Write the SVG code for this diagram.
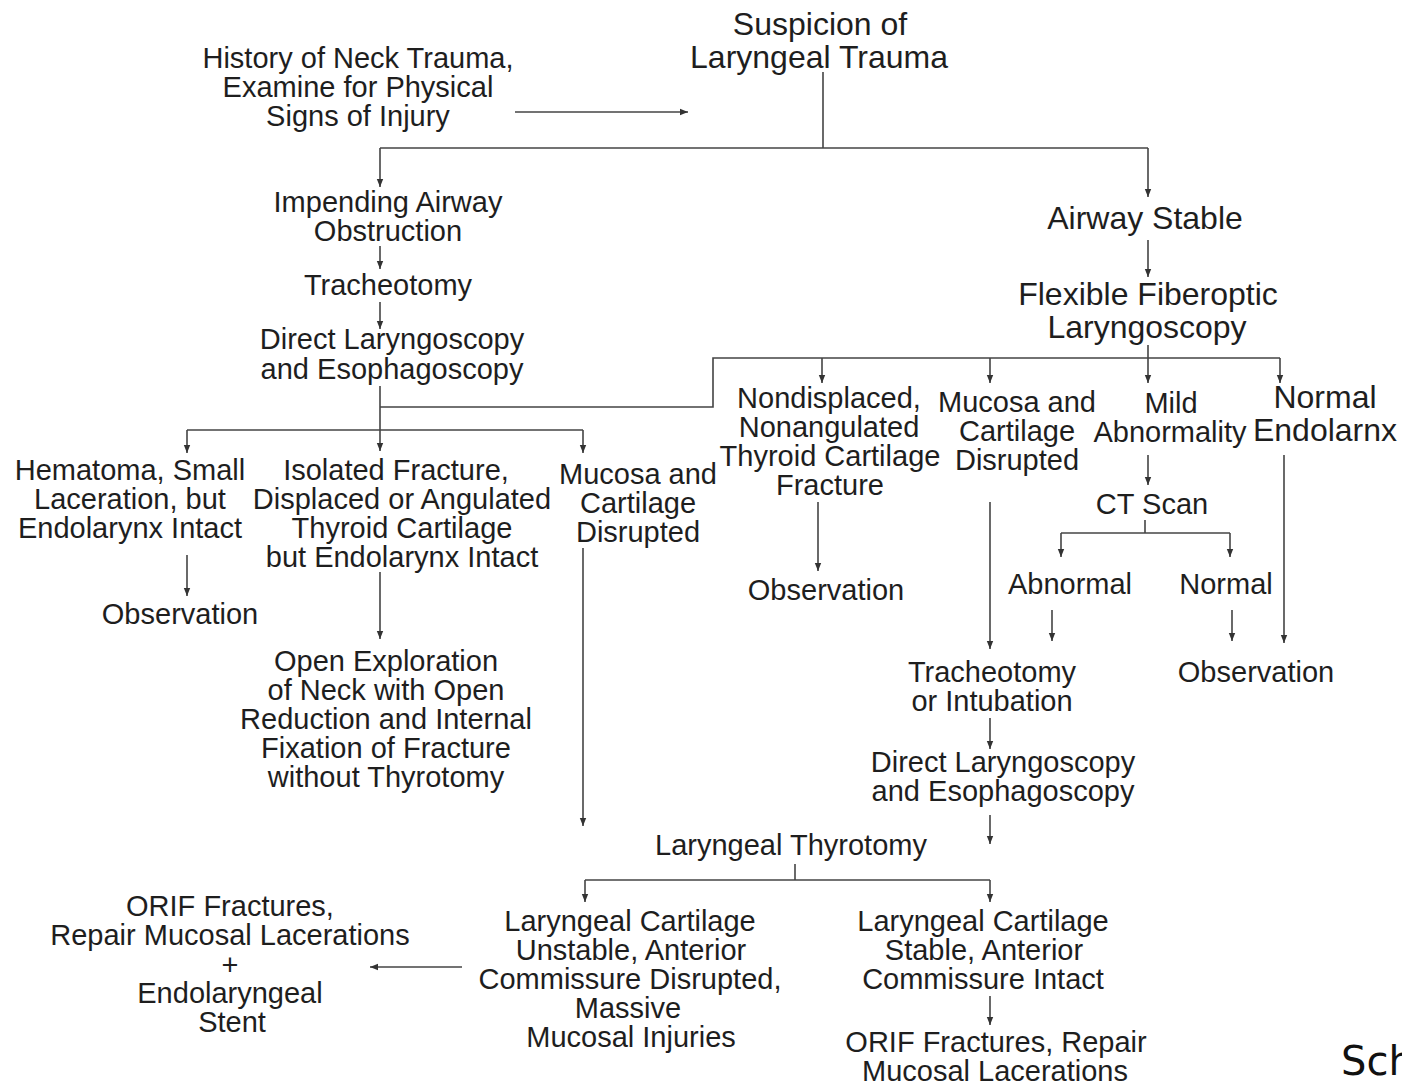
<svg xmlns="http://www.w3.org/2000/svg" width="1402" height="1085" viewBox="0 0 1402 1085">
<defs>
<marker id="ah" markerUnits="userSpaceOnUse" markerWidth="8" markerHeight="8" refX="8" refY="4" orient="auto">
<path d="M0,0.8 L8,4 L0,7.2 z" fill="#333"/>
</marker>
<style>
text{font-family:"Liberation Sans",Arial,sans-serif;font-size:29px;fill:#1e1e1e;text-anchor:middle}
text.lg{font-size:32px}
.c line,.c path{stroke:#444;stroke-width:1.6;fill:none}
.a{marker-end:url(#ah)}
</style>
</defs>
<rect width="1402" height="1085" fill="#fff"/>
<g class="c" id="connectors">
<line class="a" x1="515" y1="112" x2="688" y2="112"/>
<line x1="823" y1="72" x2="823" y2="148"/>
<line x1="380" y1="148" x2="1148" y2="148"/>
<line class="a" x1="380" y1="148" x2="380" y2="187"/>
<line class="a" x1="1148" y1="148" x2="1148" y2="197"/>
<line class="a" x1="380" y1="246" x2="380" y2="269"/>
<line class="a" x1="380" y1="302" x2="380" y2="329"/>
<line class="a" x1="380" y1="386" x2="380" y2="451"/>
<path d="M380,407 H713 V358 H1280"/>
<line x1="187" y1="430" x2="583" y2="430"/>
<line class="a" x1="187" y1="430" x2="187" y2="453"/>
<line class="a" x1="583" y1="430" x2="583" y2="453"/>
<line class="a" x1="1148" y1="240" x2="1148" y2="277"/>
<line class="a" x1="822" y1="358" x2="822" y2="383"/>
<line class="a" x1="990" y1="358" x2="990" y2="383"/>
<line class="a" x1="1148" y1="345" x2="1148" y2="383"/>
<line class="a" x1="1280" y1="358" x2="1280" y2="383"/>
<line class="a" x1="187" y1="555" x2="187" y2="596"/>
<line class="a" x1="380" y1="572" x2="380" y2="639"/>
<line class="a" x1="583" y1="548" x2="583" y2="826"/>
<line class="a" x1="818" y1="502" x2="818" y2="571"/>
<line class="a" x1="990" y1="502" x2="990" y2="649"/>
<line class="a" x1="1148" y1="455" x2="1148" y2="485"/>
<line x1="1145" y1="520" x2="1145" y2="533"/>
<line x1="1061" y1="533" x2="1230" y2="533"/>
<line class="a" x1="1061" y1="533" x2="1061" y2="557"/>
<line class="a" x1="1230" y1="533" x2="1230" y2="557"/>
<line class="a" x1="1052" y1="610" x2="1052" y2="641"/>
<line class="a" x1="1232" y1="610" x2="1232" y2="641"/>
<line class="a" x1="1284" y1="455" x2="1284" y2="643"/>
<line class="a" x1="990" y1="718" x2="990" y2="749"/>
<line class="a" x1="990" y1="815" x2="990" y2="844"/>
<line x1="795" y1="864" x2="795" y2="880"/>
<line x1="585" y1="880" x2="990" y2="880"/>
<line class="a" x1="585" y1="880" x2="585" y2="902"/>
<line class="a" x1="990" y1="880" x2="990" y2="902"/>
<line class="a" x1="990" y1="996" x2="990" y2="1025"/>
<line class="a" x1="462" y1="967" x2="370" y2="967"/>
</g>
<g id="suspicion"><text class="lg" x="820" y="35">Suspicion of</text><text class="lg" x="819" y="68">Laryngeal Trauma</text></g>
<g id="history"><text x="358" y="68">History of Neck Trauma,</text><text x="358" y="97">Examine for Physical</text><text x="358" y="126">Signs of Injury</text></g>
<g id="impending"><text x="388" y="212">Impending Airway</text><text x="388" y="241">Obstruction</text></g>
<g id="tracheotomy1"><text x="388" y="295">Tracheotomy</text></g>
<g id="dle1"><text x="392" y="349">Direct Laryngoscopy</text><text x="392" y="379">and Esophagoscopy</text></g>
<g id="airwaystable"><text class="lg" x="1145" y="229">Airway Stable</text></g>
<g id="ffl"><text class="lg" x="1148" y="305">Flexible Fiberoptic</text><text class="lg" x="1147" y="338">Laryngoscopy</text></g>
<g id="hematoma"><text x="130" y="480">Hematoma, Small</text><text x="130" y="509">Laceration, but</text><text x="130" y="538">Endolarynx Intact</text></g>
<g id="isolated"><text x="396" y="480">Isolated Fracture,</text><text x="402" y="509">Displaced or Angulated</text><text x="402" y="538">Thyroid Cartilage</text><text x="402" y="567">but Endolarynx Intact</text></g>
<g id="mucosa1"><text x="638" y="484">Mucosa and</text><text x="638" y="513">Cartilage</text><text x="638" y="542">Disrupted</text></g>
<g id="obs1"><text x="180" y="624">Observation</text></g>
<g id="openexp"><text x="386" y="671">Open Exploration</text><text x="386" y="700">of Neck with Open</text><text x="386" y="729">Reduction and Internal</text><text x="386" y="758">Fixation of Fracture</text><text x="386" y="787">without Thyrotomy</text></g>
<g id="nondisplaced"><text x="829" y="408">Nondisplaced,</text><text x="829" y="437">Nonangulated</text><text x="830" y="466">Thyroid Cartilage</text><text x="830" y="495">Fracture</text></g>
<g id="mucosa2"><text x="1017" y="412">Mucosa and</text><text x="1017" y="441">Cartilage</text><text x="1017" y="470">Disrupted</text></g>
<g id="mild"><text x="1171" y="413">Mild</text><text x="1170" y="442">Abnormality</text></g>
<g id="normalendo"><text class="lg" x="1325" y="408">Normal</text><text class="lg" x="1325" y="441">Endolarnx</text></g>
<g id="obs2"><text x="826" y="600">Observation</text></g>
<g id="ctscan"><text x="1152" y="514">CT Scan</text></g>
<g id="abnormal"><text x="1070" y="594">Abnormal</text></g>
<g id="normal"><text x="1226" y="594">Normal</text></g>
<g id="obs3"><text x="1256" y="682">Observation</text></g>
<g id="trach2"><text x="992" y="682">Tracheotomy</text><text x="992" y="711">or Intubation</text></g>
<g id="dle2"><text x="1003" y="772">Direct Laryngoscopy</text><text x="1003" y="801">and Esophagoscopy</text></g>
<g id="thyrotomy"><text x="791" y="855">Laryngeal Thyrotomy</text></g>
<g id="unstable"><text x="630" y="931">Laryngeal Cartilage</text><text x="631" y="960">Unstable, Anterior</text><text x="630" y="989">Commissure Disrupted,</text><text x="628" y="1018">Massive</text><text x="631" y="1047">Mucosal Injuries</text></g>
<g id="stable"><text x="983" y="931">Laryngeal Cartilage</text><text x="984" y="960">Stable, Anterior</text><text x="983" y="989">Commissure Intact</text></g>
<g id="orif2"><text x="996" y="1052">ORIF Fractures, Repair</text><text x="995" y="1081">Mucosal Lacerations</text></g>
<g id="orif1"><text x="230" y="916">ORIF Fractures,</text><text x="230" y="945">Repair Mucosal Lacerations</text><text x="230" y="975">+</text><text x="230" y="1003">Endolaryngeal</text><text x="232" y="1032">Stent</text></g>
<text x="1341" y="1075" style="font-family:'DejaVu Sans',sans-serif;font-size:40px;text-anchor:start;fill:#111">Sch</text>
</svg>
